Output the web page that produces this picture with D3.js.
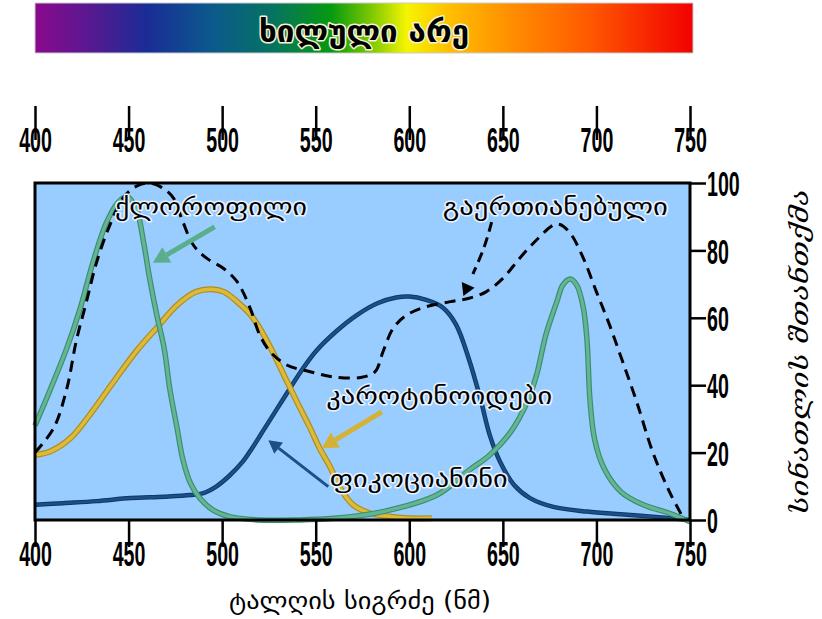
<!DOCTYPE html>
<html>
<head>
<meta charset="utf-8">
<script src="https://cdn.jsdelivr.net/npm/d3@7/dist/d3.min.js"></script>
<style>
body { margin: 0; background: #fff; }
</style>
</head>
<body>
<svg width="822" height="619"></svg>
<script>
// wavelength ticks (nm) and absorption ticks (%)
const wlTicks = [400, 450, 500, 550, 600, 650, 700, 750];
const absTicks = [0, 20, 40, 60, 80, 100];

// chlorophyll
const chlWl  = [400, 408, 417, 424, 431, 438, 444, 449, 454, 458, 461, 465, 469, 472, 476, 479, 483, 488, 495, 504, 520, 540, 560, 586, 615, 632, 643, 654, 663, 668, 673, 679, 682, 686, 689.5, 693, 695, 696.5, 699, 704, 713, 725, 739, 750];
const chlAbs = [28, 38.5, 51, 62.5, 76.5, 88, 94, 96, 92.5, 82.5, 72.5, 61, 51, 39, 27, 18, 11, 6.5, 3, 1, 0, 0, 0.5, 2.5, 7.5, 14.8, 19.3, 26, 35, 43, 55, 65, 69.7, 71.5, 69.7, 63, 53, 36, 24, 15.4, 8.4, 4.5, 2, -0.5];

// carotenoids
const carWl  = [400, 408, 419, 429, 442, 454, 465, 476, 486, 494, 501, 510, 515, 519, 526, 533, 540, 547, 552, 558, 563, 570, 579, 590, 600, 612];
const carAbs = [19.3, 20.3, 24.3, 31, 41, 50, 57, 63.8, 67.7, 68.5, 67.7, 63.8, 61, 57.9, 51, 43, 35, 27.3, 21.4, 15.4, 9.5, 4.5, 2, 1, 0.5, 0.5];

// phycocyanin
const phyWl  = [400, 415, 433, 451, 469, 483, 490, 497, 504, 511, 516, 520, 524, 533, 542, 550, 561, 572, 583, 593, 600, 609, 618, 625, 632, 638, 643, 648.5, 656, 664.5, 677, 695, 713, 730, 750];
const phyAbs = [4.5, 5, 5.6, 6.5, 6.9, 7.4, 8, 10, 13.2, 17.3, 21.3, 24.8, 28.3, 36.2, 44, 50, 56, 60.8, 64.3, 66, 66.3, 65.3, 63, 58, 47.5, 36, 25.2, 17.3, 10.4, 6.5, 3.9, 2.5, 1.7, 1, 0];

// combined (dashed)
const totWl  = [400, 410, 417, 422, 427.6, 433, 440, 447, 454, 461, 468.6, 474, 479, 484.6, 491.7, 500.6, 508, 515, 520, 525.6, 534.5, 547, 559, 574, 581.7, 586, 591.5, 598.6, 609, 622, 632, 641, 650, 659, 668, 677, 680.5, 686, 693, 700, 707, 714, 721.5, 730, 739, 747];
const totAbs = [20, 27.3, 39, 53, 65, 76.6, 87.5, 95.5, 99, 100, 98.4, 95.5, 88.5, 81.6, 77.7, 74.7, 70.7, 62.8, 55, 50, 46, 44, 42.5, 42.3, 44, 50, 57, 60.8, 63.3, 64.8, 65.8, 67.7, 71.7, 77.7, 83.1, 87.5, 87.7, 85.1, 77.7, 67.7, 57.9, 47, 35.1, 20.3, 8.4, 0];

// labels [text, wavelength, absorption]
const labelNames = ["ქლოროფილი", "გაერთიანებული", "კაროტინოიდები", "ფიკოციანინი"];
const labelWl    = [494, 678, 616, 605];
const labelAbs   = [90.5, 90.5, 34.5, 9.8];
const labelWidth = [192, 225, 226, 178];

const svg = d3.select('svg');
const geo = "'DejaVu Sans', sans-serif";
const num = "'Liberation Sans', Arial, sans-serif";

const x = d3.scaleLinear().domain([400, 750]).range([35, 690]);
const y = d3.scaleLinear().domain([0, 100]).range([520, 183]);

// spectrum bar
const defs = svg.append('defs');
const grad = defs.append('linearGradient').attr('id', 'spec');
[[0, '#8a0a8c'], [0.08, '#5a1890'], [0.17, '#1a2c96'], [0.27, '#0b5a8c'], [0.36, '#067262'],
 [0.45, '#069a10'], [0.51, '#7ac800'], [0.565, '#f5f500'], [0.63, '#ffbe00'], [0.72, '#ff9000'],
 [0.84, '#ff5a00'], [1, '#f20000']].forEach(s => {
    grad.append('stop').attr('offset', s[0]).attr('stop-color', s[1]);
});
svg.append('rect')
    .attr('x', 35).attr('y', 3).attr('width', 658).attr('height', 50)
    .attr('fill', 'url(#spec)')
    .attr('stroke', '#ccc').attr('stroke-width', 1);
svg.append('text')
    .text('ხილული არე')
    .attr('x', 364).attr('y', 42)
    .attr('text-anchor', 'middle')
    .attr('textLength', 210).attr('lengthAdjust', 'spacingAndGlyphs')
    .style('font-family', geo).style('font-size', '30px').style('font-weight', 'bold')
    .style('fill', '#000').style('stroke', '#f4f4d0').style('stroke-width', 3)
    .style('paint-order', 'stroke').style('stroke-linejoin', 'round');

// plot background
svg.append('rect')
    .attr('x', x(400)).attr('y', y(100))
    .attr('width', x(750) - x(400)).attr('height', y(0) - y(100))
    .attr('fill', '#99ccff');

const line = d3.line()
    .x(d => x(d[0]))
    .y(d => y(d[1]))
    .curve(d3.curveCatmullRom.alpha(0.5));

function curve(wl, vals, outer, inner, wo, wi){
    const pts = d3.zip(wl, vals);
    svg.append('path').attr('d', line(pts))
        .attr('fill', 'none').attr('stroke', outer).attr('stroke-width', wo);
    svg.append('path').attr('d', line(pts))
        .attr('fill', 'none').attr('stroke', inner).attr('stroke-width', wi);
}

curve(phyWl, phyAbs, '#0d3868', '#1c4f86', 4.5, 2.5);
curve(carWl, carAbs, '#b08e1c', '#dcbb3c', 6, 3.5);
curve(chlWl, chlAbs, '#3f8c6c', '#62b693', 5.5, 3.2);

svg.append('path').attr('d', line(d3.zip(totWl, totAbs)))
    .attr('fill', 'none').attr('stroke', '#000').attr('stroke-width', 3)
    .attr('stroke-dasharray', '11,7');

// arrows
function arrow(x1, y1, x2, y2, color, w, head){
    const ang = Math.atan2(y2 - y1, x2 - x1);
    const bx = x2 - head * Math.cos(ang), by = y2 - head * Math.sin(ang);
    svg.append('line')
        .attr('x1', x1).attr('y1', y1).attr('x2', bx).attr('y2', by)
        .attr('stroke', color).attr('stroke-width', w);
    const hw = head * 0.55;
    const px = -Math.sin(ang), py = Math.cos(ang);
    svg.append('path')
        .attr('d', `M${x2},${y2}L${bx + px*hw},${by + py*hw}L${bx - px*hw},${by - py*hw}Z`)
        .attr('fill', color);
}
arrow(x(496), y(87), x(463), y(76.3), '#5aae8b', 5, 16);
arrow(x(585.3), y(32.1), x(553.2), y(21.3), '#d4b236', 5, 16);
arrow(x(556.7), y(9.9), x(524.7), y(23.7), '#1c4f86', 3, 13);

// dashed arrow for combined
const dashPts = [[644, 88.4], [640, 81], [634, 73]];
svg.append('path')
    .attr('d', d3.line().x(d => x(d[0])).y(d => y(d[1])).curve(d3.curveNatural)(dashPts))
    .attr('fill', 'none').attr('stroke', '#000').attr('stroke-width', 3)
    .attr('stroke-dasharray', '10,6');
(function(){
    const tx = x(628.9), ty = y(66.5);
    const ang = Math.atan2(ty - y(73), tx - x(634));
    const head = 12, hw = 7;
    const bx = tx - head * Math.cos(ang), by = ty - head * Math.sin(ang);
    const px = -Math.sin(ang), py = Math.cos(ang);
    svg.append('path')
        .attr('d', `M${tx},${ty}L${bx + px*hw},${by + py*hw}L${bx - px*hw},${by - py*hw}Z`)
        .attr('fill', '#000');
})();

// labels
labelNames.forEach((t, i) => {
    svg.append('text')
        .text(t)
        .attr('x', x(labelWl[i])).attr('y', y(labelAbs[i]))
        .attr('text-anchor', 'middle')
        .attr('textLength', labelWidth[i]).attr('lengthAdjust', 'spacingAndGlyphs')
        .style('font-family', geo).style('font-size', '24px')
        .style('fill', '#000').style('stroke', '#e8f2ff').style('stroke-width', 3)
        .style('paint-order', 'stroke').style('stroke-linejoin', 'round');
});

// frame
svg.append('rect')
    .attr('x', x(400)).attr('y', y(100))
    .attr('width', x(750) - x(400)).attr('height', y(0) - y(100))
    .attr('fill', 'none').attr('stroke', '#000').attr('stroke-width', 3);

// axes
function styleAxis(g){
    g.select('.domain').remove();
    g.selectAll('line').attr('stroke', '#000').attr('stroke-width', 2.5);
    g.selectAll('text')
        .style('font-family', num).style('font-weight', 'bold').style('font-size', '35px')
        .style('fill', '#000');
}

const topAxis = svg.append('g')
    .attr('transform', 'translate(0,106)')
    .call(d3.axisBottom(x).tickValues(wlTicks).tickSize(34).tickFormat(d3.format('d')));
styleAxis(topAxis);
topAxis.selectAll('text').attr('y', 46).attr('dy', 0).attr('transform', 'scale(0.56,1)');

const botAxis = svg.append('g')
    .attr('transform', 'translate(0,520)')
    .call(d3.axisBottom(x).tickValues(wlTicks).tickSize(27).tickFormat(d3.format('d')));
styleAxis(botAxis);
botAxis.selectAll('text').attr('y', 46).attr('dy', 0).attr('transform', 'scale(0.56,1)');

const rightAxis = svg.append('g')
    .attr('transform', `translate(${x(750)},0)`)
    .call(d3.axisRight(y).tickValues(absTicks).tickSize(16).tickFormat(d3.format('d')));
styleAxis(rightAxis);
rightAxis.selectAll('text').attr('x', 0).attr('dy', '0.36em')
    .attr('text-anchor', 'start').attr('transform', 'translate(17,0) scale(0.56,1)');

// axis titles
svg.append('text')
    .text('ტალღის სიგრძე (ნმ)')
    .attr('x', 360).attr('y', 609)
    .attr('text-anchor', 'middle')
    .attr('textLength', 262).attr('lengthAdjust', 'spacingAndGlyphs')
    .style('font-family', geo).style('font-size', '24px').style('fill', '#000');

svg.append('text')
    .text('სინათლის შთანთქმა')
    .attr('transform', 'translate(808,352) rotate(-90)')
    .attr('text-anchor', 'middle')
    .attr('textLength', 325).attr('lengthAdjust', 'spacingAndGlyphs')
    .style('font-family', "'DejaVu Serif', serif").style('font-style', 'italic')
    .style('font-size', '24px').style('fill', '#000');
</script>
</body>
</html>
